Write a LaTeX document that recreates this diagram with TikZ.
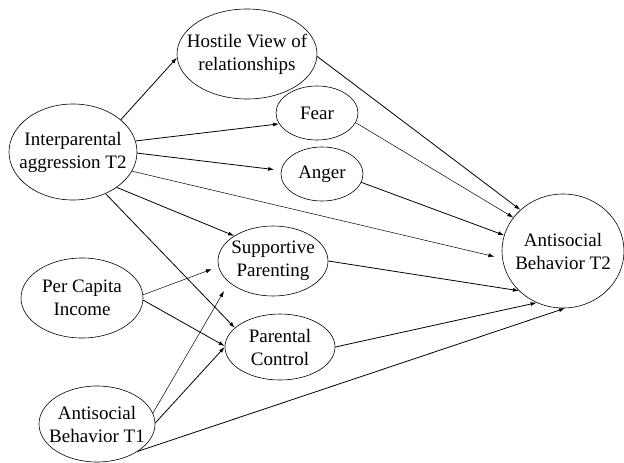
\documentclass[tikz,border=0pt]{standalone}
\usepackage{fontspec}
\setmainfont{Liberation Serif}
\usetikzlibrary{arrows.meta,shapes.geometric}

\begin{document}
\begin{tikzpicture}[
  x=1pt, y=-1pt, >={Latex[length=6pt,width=4pt]},
  var/.style={draw, ellipse, line width=0.6pt, inner sep=0pt},
  txt/.style={align=center, font=\fontsize{19}{23}\selectfont},
  lnk/.style={->, line width=0.8pt},
  thinlnk/.style={->, line width=0.5pt},
]
\useasboundingbox (0,0) rectangle (624,463);

% constructs
\node[var, minimum width=140pt, minimum height=90pt, label={[txt]center:Hostile View of\\relationships}] (hostile) at (247,54) {};
\node[var, minimum width=128pt, minimum height=96pt, label={[txt]center:Interparental\\aggression T2}] (inter) at (73,152) {};
\node[var, minimum width=82pt, minimum height=54pt, label={[txt]center:Fear}] (fear) at (317,113) {};
\node[var, minimum width=82pt, minimum height=54pt, label={[txt]center:Anger}] (anger) at (322,174) {};
\node[var, minimum width=110pt, minimum height=70pt, label={[txt]center:Supportive\\Parenting}] (supp) at (273,261) {};
\node[var, minimum width=110pt, minimum height=66pt, label={[txt]center:Parental\\Control}] (ctrl) at (280,347) {};
\node[var, minimum width=122pt, minimum height=80pt, label={[txt]center:Per Capita\\Income}] (income) at (82,298) {};
\node[var, minimum width=116pt, minimum height=76pt, label={[txt]center:Antisocial\\Behavior T1}] (t1) at (97,424) {};
\node[var, minimum width=122pt, minimum height=114pt, label={[txt]center:Antisocial\\Behavior T2}] (t2) at (563,251) {};

% paths from interparental aggression
\draw[lnk] (inter.34) -- (hostile.183);
\draw[lnk] (inter.10) -- (fear.196);
\draw[lnk, shorten >=7pt] (inter.-1) -- (anger.175);
\draw[thinlnk, shorten >=8pt] (inter.-18) -- (t2.187);
\draw[lnk] (inter.-39) -- (supp.147);
\draw[lnk] (inter.-52) -- (ctrl.157);

% paths from income and T1
\draw[thinlnk, shorten >=7pt] (income.3) -- (supp.186);
\draw[lnk] (income.-2) -- (ctrl.179);
\draw[thinlnk, shorten >=10pt] (t1.11) -- (supp.206);
\draw[lnk] (t1.1) -- (ctrl.180);
\draw[lnk] (t1.-34) -- (t2.-88);

% paths to antisocial behavior T2
\draw[lnk] (hostile.-2) -- (t2.136);
\draw[thinlnk] (fear.-14) -- (t2.146);
\draw[lnk] (anger.-12) -- (t2.165);
\draw[lnk] (supp.0) -- (t2.222);
\draw[lnk] (ctrl.0) -- (t2.243);
\end{tikzpicture}
\end{document}
